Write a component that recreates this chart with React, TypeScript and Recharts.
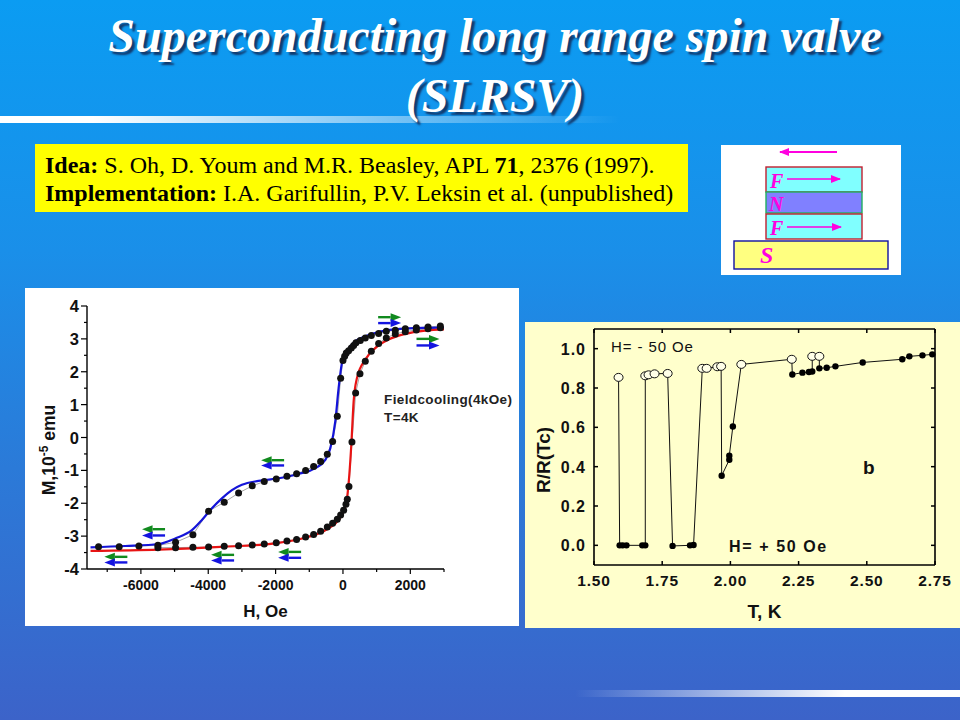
import React from "react";
import { ComposedChart, Line, Scatter, XAxis, YAxis } from "recharts";

// ---- left panel: magnetisation loop ----
const fieldTicks = [-7000, -6000, -5000, -4000, -3000, -2000, -1000, 0, 1000, 2000, 3000];
const fieldLabelled = [-6000, -4000, -2000, 0, 2000];
const momentTicks = [-4, -3.5, -3, -2.5, -2, -1.5, -1, -0.5, 0, 0.5, 1, 1.5, 2, 2.5, 3, 3.5, 4];

const upperPoints = [
  [-7257, -3.32], [-6644, -3.32], [-6059, -3.3], [-5495, -3.28], [-4970, -3.19], [-4455, -2.96], [-3990, -2.24],
  [-3525, -1.97], [-3099, -1.69], [-2693, -1.47], [-2337, -1.34], [-1980, -1.26], [-1663, -1.18], [-1376, -1.1],
  [-1109, -1.0], [-871, -0.88], [-663, -0.73], [-465, -0.51], [-307, -0.12], [-168, 0.65], [-69, 1.8], [0, 2.34],
  [50, 2.47], [99, 2.57], [168, 2.64], [248, 2.72], [317, 2.8], [386, 2.88], [515, 2.95], [663, 3.03], [842, 3.1],
  [1059, 3.16], [1287, 3.23], [1554, 3.26], [1851, 3.31], [2178, 3.34], [2525, 3.36], [2891, 3.39],
].map(([h, m]) => ({ h, m }));

const lowerPoints = [
  [-5495, -3.35], [-4970, -3.35], [-4455, -3.34], [-3990, -3.33], [-3525, -3.31], [-3099, -3.29], [-2693, -3.27],
  [-2337, -3.24], [-1980, -3.2], [-1663, -3.15], [-1376, -3.1], [-1109, -3.03], [-871, -2.95], [-663, -2.85],
  [-465, -2.72], [-307, -2.61], [-168, -2.49], [-69, -2.36], [20, -2.21], [89, -2.03], [129, -1.88], [178, -1.49],
  [267, -0.14], [376, 1.35], [505, 1.94], [663, 2.32], [842, 2.62], [1059, 2.86], [1287, 3.03], [1554, 3.15],
  [1851, 3.22], [2178, 3.27], [2525, 3.31], [2891, 3.34],
].map(([h, m]) => ({ h, m }));

const blueCurve = [
  [-7495, -3.34], [-6465, -3.3], [-5475, -3.24], [-4980, -3.07], [-4485, -2.82], [-4188, -2.51], [-3891, -2.15],
  [-3594, -1.85], [-3297, -1.6], [-3000, -1.44], [-2505, -1.32], [-1911, -1.24], [-1317, -1.11], [-822, -0.93],
  [-525, -0.68], [-376, -0.33], [-228, 0.49], [-129, 1.5], [-30, 2.27], [119, 2.62], [366, 2.93], [663, 3.08],
  [1059, 3.21], [1455, 3.28], [1950, 3.32], [3000, 3.34],
].map(([h, m]) => ({ h, m }));

const redCurve = [
  [-7495, -3.45], [-5475, -3.41], [-3495, -3.32], [-2010, -3.22], [-1020, -3.02], [-525, -2.82], [-30, -2.36],
  [119, -1.85], [188, -1.14], [248, -0.22], [317, 1.1], [416, 1.81], [663, 2.37], [960, 2.72], [1356, 2.98],
  [1851, 3.15], [2446, 3.25], [3000, 3.29],
].map(([h, m]) => ({ h, m }));

const arrowPoints = [
  { h: 1386, m: 3.66, dir: 1, color: "#118a1e" }, { h: 1386, m: 3.48, dir: 1, color: "#1414e0" },
  { h: 2525, m: 3.0, dir: 1, color: "#118a1e" }, { h: 2525, m: 2.8, dir: 1, color: "#1414e0" },
  { h: -2089, m: -0.69, dir: -1, color: "#118a1e" }, { h: -2089, m: -0.85, dir: -1, color: "#1414e0" },
  { h: -5624, m: -2.79, dir: -1, color: "#118a1e" }, { h: -5624, m: -2.98, dir: -1, color: "#1414e0" },
  { h: -6743, m: -3.63, dir: -1, color: "#118a1e" }, { h: -6743, m: -3.8, dir: -1, color: "#1414e0" },
  { h: -3574, m: -3.57, dir: -1, color: "#118a1e" }, { h: -3574, m: -3.74, dir: -1, color: "#1414e0" },
  { h: -1584, m: -3.48, dir: -1, color: "#118a1e" }, { h: -1584, m: -3.66, dir: -1, color: "#1414e0" },
];

// ---- right panel: resistance vs temperature ----
const tempTicks = [1.5, 1.75, 2.0, 2.25, 2.5, 2.75];
const ratioTicks = [0, 0.2, 0.4, 0.6, 0.8, 1.0];
const temps = [
  1.59, 1.594, 1.605, 1.619, 1.677, 1.688, 1.688, 1.7, 1.722, 1.77, 1.788, 1.852, 1.865, 1.897, 1.913, 1.952, 1.966,
  1.968, 1.996, 1.996, 2.009, 2.04, 2.225, 2.227, 2.264, 2.288, 2.3, 2.3, 2.326, 2.326, 2.353, 2.385, 2.485, 2.63,
  2.656, 2.704, 2.74,
];
const ratios = [
  0.854, 0, 0, 0, 0, 0, 0.862, 0.867, 0.872, 0.874, -0.003, 0, 0.002, 0.9, 0.9, 0.908, 0.91, 0.354, 0.435, 0.456,
  0.604, 0.92, 0.946, 0.869, 0.878, 0.881, 0.884, 0.961, 0.961, 0.9, 0.903, 0.91, 0.93, 0.946, 0.961, 0.966, 0.971,
];
const isOpen = [
  1, 0, 0, 0, 0, 0, 1, 1, 1, 1, 0, 0, 0, 1, 1, 1, 1, 0, 0, 0, 0, 1, 1, 0, 0, 0, 0, 1, 1, 0, 0, 0, 0, 0, 0, 0, 0,
];
const transition = temps.map((t, i) => ({ t, r: ratios[i], open: isOpen[i] === 1 }));

const SANS = "'Liberation Sans', Arial, sans-serif";
const SERIF = "'Liberation Serif', 'Times New Roman', serif";

const FieldTick = (p: any) => {
  const v = p.payload.value;
  const major = fieldLabelled.includes(v);
  return (
    <g>
      <line x1={p.x} x2={p.x} y1={p.y} y2={p.y + (major ? 5 : 3)} stroke="#000" strokeWidth={1.2} />
      {major && (
        <text x={p.x} y={p.y + 20.5} textAnchor="middle" fontFamily={SANS} fontWeight="bold" fontSize={14} fill="#111">
          {v}
        </text>
      )}
    </g>
  );
};

const MomentTick = (p: any) => {
  const v = p.payload.value;
  const major = Number.isInteger(v);
  return (
    <g>
      <line x1={p.x} x2={p.x - (major ? 6 : 3)} y1={p.y} y2={p.y} stroke="#000" strokeWidth={1.2} />
      {major && (
        <text x={p.x - 8} y={p.y + 6} textAnchor="end" fontFamily={SANS} fontWeight="bold" fontSize={16.5} fill="#111">
          {v}
        </text>
      )}
    </g>
  );
};

const ArrowShape = (p: any) => {
  const { cx, cy, payload } = p;
  const d = payload.dir;
  const tip = cx + d * 11.5;
  const neck = cx + d * 1;
  return (
    <g>
      <line x1={cx - d * 11.5} x2={neck} y1={cy} y2={cy} stroke={payload.color} strokeWidth={2.4} />
      <polygon points={`${tip},${cy} ${neck},${cy - 4} ${neck},${cy + 4}`} fill={payload.color} />
    </g>
  );
};

const TempTick = (p: any) => {
  const v = p.payload.value;
  return (
    <g>
      <line x1={p.x} x2={p.x} y1={p.y} y2={p.y - 4} stroke="#000" strokeWidth={1.5} />
      <text x={p.x} y={p.y + 21} textAnchor="middle" fontFamily={SANS} fontWeight="bold" fontSize={15.5} letterSpacing={0.8} fill="#111">
        {v.toFixed(2)}
      </text>
    </g>
  );
};
const TopTick = (p: any) => <line x1={p.x} x2={p.x} y1={p.y} y2={p.y + 4} stroke="#000" strokeWidth={1.5} />;
const RatioTick = (p: any) => {
  const v = p.payload.value;
  return (
    <g>
      <line x1={p.x} x2={p.x + 4} y1={p.y} y2={p.y} stroke="#000" strokeWidth={1.5} />
      <text x={p.x - 8} y={p.y + 6} textAnchor="end" fontFamily={SANS} fontWeight="bold" fontSize={16} letterSpacing={1} fill="#111">
        {v.toFixed(1)}
      </text>
    </g>
  );
};
const RightTick = (p: any) => <line x1={p.x} x2={p.x - 4} y1={p.y} y2={p.y} stroke="#000" strokeWidth={1.5} />;

const TransitionDot = (p: any) => {
  const { cx, cy, payload, index } = p;
  return payload.open ? (
    <ellipse key={index} cx={cx} cy={cy} rx={4.5} ry={4} fill="#ffffe8" stroke="#111" strokeWidth={1} />
  ) : (
    <circle key={index} cx={cx} cy={cy} r={3.2} fill="#000" />
  );
};

const abs = (left: number, top: number, extra: React.CSSProperties = {}): React.CSSProperties => ({
  position: "absolute",
  left,
  top,
  whiteSpace: "nowrap",
  ...extra,
});

const Stack = () => (
  <svg width={180} height={130} style={abs(721, 145, { background: "#fff" })}>
    <defs>
      <marker id="mh" markerUnits="userSpaceOnUse" markerWidth="10" markerHeight="8" refX="9" refY="4" orient="auto">
        <path d="M0,0 L10,4 L0,8 Z" fill="#ff00e0" />
      </marker>
    </defs>
    <line x1={116} y1={7} x2={59} y2={7} stroke="#ff00e0" strokeWidth={2} markerEnd="url(#mh)" />
    <rect x={45} y={22} width={96} height={25} fill="#80ffff" stroke="#c02030" strokeWidth={1.4} />
    <rect x={45} y={47} width={96} height={21} fill="#8080ff" stroke="#20b060" strokeWidth={1.4} />
    <rect x={45} y={69} width={96} height={25} fill="#80ffff" stroke="#c02030" strokeWidth={1.4} />
    <rect x={13} y={96} width={154} height={28} fill="#ffff80" stroke="#1010a0" strokeWidth={1.4} />
    <line x1={66} y1={34} x2={119} y2={34} stroke="#ff00e0" strokeWidth={1.4} markerEnd="url(#mh)" />
    <line x1={66} y1={82} x2={120} y2={82} stroke="#ff00e0" strokeWidth={1.4} markerEnd="url(#mh)" />
    {[["F", 49, 43, 20], ["N", 48, 66, 20], ["F", 49, 90, 20], ["S", 39, 118, 24]].map(([t, x, y, s], i) => (
      <text key={i} x={x} y={y} fontFamily={SERIF} fontStyle="italic" fontWeight="bold" fontSize={s} fill="#ff00e0">
        {t}
      </text>
    ))}
  </svg>
);

export default function App() {
  return (
    <div
      style={{
        position: "fixed",
        left: 0,
        top: 0,
        width: 960,
        height: 720,
        overflow: "hidden",
        background: "linear-gradient(180deg, #0b9cf2 0%, #1a8fe9 35%, #2b7ad8 65%, #3c63c9 100%)",
        fontFamily: SERIF,
      }}
    >
      <div
        style={{
          position: "absolute",
          left: 0,
          top: 116,
          width: 620,
          height: 7,
          background: "linear-gradient(90deg, #fff 0%, #fff 15%, rgba(255,255,255,0) 100%)",
        }}
      />
      <div
        style={{
          position: "absolute",
          left: 575,
          top: 690,
          width: 385,
          height: 7,
          background: "linear-gradient(90deg, rgba(255,255,255,0) 0%, #fff 70%, #fff 100%)",
        }}
      />
      <div
        style={{
          position: "absolute",
          left: 15,
          top: 6,
          width: 960,
          textAlign: "center",
          color: "#fff",
          fontStyle: "italic",
          fontWeight: "bold",
          fontSize: 48,
          lineHeight: "60px",
          textShadow: "3px 3px 2px #123a6e",
        }}
      >
        Superconducting long range spin valve
        <br />
        (SLRSV)
      </div>

      <div
        style={{
          position: "absolute",
          left: 35,
          top: 144,
          width: 653,
          height: 68,
          background: "#ffff00",
          color: "#000",
          fontSize: 24,
          lineHeight: "28px",
          paddingTop: 7,
          paddingLeft: 10,
          boxSizing: "border-box",
          whiteSpace: "nowrap",
        }}
      >
        <b>Idea:</b> S. Oh, D. Youm and M.R. Beasley, APL <b>71</b>, 2376 (1997).
        <br />
        <b>Implementation:</b> I.A. Garifullin, P.V. Leksin et al. (unpublished)
      </div>

      <Stack />

      <div style={abs(25, 288, { width: 494, height: 338, background: "#fff" })}>
        <ComposedChart width={494} height={338} margin={{ top: 18, left: 61, right: 75, bottom: 56 }}>
          <XAxis
            type="number"
            dataKey="h"
            domain={[-7600, 3000]}
            ticks={fieldTicks}
            interval={0}
            height={1}
            tickSize={0}
            tickMargin={0}
            tick={FieldTick}
            axisLine={{ stroke: "#000", strokeWidth: 1.4 }}
            allowDataOverflow
            label={{ value: "H, Oe", position: "bottom", offset: 35, fontFamily: SANS, fontWeight: "bold", fontSize: 17, fill: "#111" }}
          />
          <YAxis
            type="number"
            dataKey="m"
            domain={[-4, 4]}
            ticks={momentTicks}
            interval={0}
            width={1}
            tickSize={0}
            tickMargin={0}
            tick={MomentTick}
            axisLine={{ stroke: "#000", strokeWidth: 1.4 }}
            allowDataOverflow
            label={{
              content: () => (
                <text
                  transform="rotate(-90 30 162)"
                  x={30}
                  y={162}
                  textAnchor="middle"
                  fontFamily={SANS}
                  fontWeight="bold"
                  fontSize={17.5}
                  fill="#111"
                >
                  M,10
                  <tspan dy={-7} fontSize={12}>-5</tspan>
                  <tspan dy={7}> emu</tspan>
                </text>
              ),
            }}
          />
          <Line data={upperPoints} dataKey="m" stroke="#666" strokeWidth={0.6} dot={{ r: 3.5, fill: "#111", stroke: "#111", strokeWidth: 0 }} isAnimationActive={false} />
          <Line data={lowerPoints} dataKey="m" stroke="#666" strokeWidth={0.6} dot={{ r: 3.5, fill: "#111", stroke: "#111", strokeWidth: 0 }} isAnimationActive={false} />
          <Line data={blueCurve} dataKey="m" type="monotone" stroke="#1414d8" strokeWidth={2.2} dot={false} isAnimationActive={false} />
          <Line data={redCurve} dataKey="m" type="monotone" stroke="#e81414" strokeWidth={2.2} dot={false} isAnimationActive={false} />
          <Scatter data={arrowPoints} dataKey="m" shape={ArrowShape} isAnimationActive={false} />
        </ComposedChart>
        <div style={abs(359, 103, { fontFamily: SANS, fontWeight: "bold", fontSize: 13.5, letterSpacing: 0.38, lineHeight: "18px", color: "#222" })}>
          Fieldcooling(4kOe)
          <br />
          T=4K
        </div>
      </div>

      <div style={abs(525, 322, { width: 435, height: 306, background: "#ffffcc" })}>
        <ComposedChart width={435} height={306} data={transition} margin={{ top: 6, left: 68, right: 24, bottom: 62 }}>
          <XAxis
            type="number"
            dataKey="t"
            domain={[1.5, 2.75]}
            ticks={tempTicks}
            interval={0}
            height={1}
            tickSize={0}
            tickMargin={0}
            tick={TempTick}
            axisLine={{ stroke: "#000", strokeWidth: 1.6 }}
            label={{ value: "T, K", position: "bottom", offset: 39, fontFamily: SANS, fontWeight: "bold", fontSize: 19, fill: "#111" }}
          />
          <XAxis
            xAxisId="top"
            orientation="top"
            type="number"
            dataKey="t"
            domain={[1.5, 2.75]}
            ticks={tempTicks}
            interval={0}
            height={1}
            tickSize={0}
            tickMargin={0}
            tick={TopTick}
            axisLine={{ stroke: "#000", strokeWidth: 1.6 }}
          />
          <YAxis
            type="number"
            dataKey="r"
            domain={[-0.1, 1.1]}
            ticks={ratioTicks}
            interval={0}
            width={1}
            tickSize={0}
            tickMargin={0}
            tick={RatioTick}
            axisLine={{ stroke: "#000", strokeWidth: 1.6 }}
            label={{
              content: () => (
                <text transform="rotate(-90 25 138)" x={25} y={138} textAnchor="middle" fontFamily={SANS} fontWeight="bold" fontSize={19} fill="#111">
                  R/R(Tc)
                </text>
              ),
            }}
          />
          <YAxis
            yAxisId="right"
            orientation="right"
            type="number"
            dataKey="r"
            domain={[-0.1, 1.1]}
            ticks={ratioTicks}
            interval={0}
            width={1}
            tickSize={0}
            tickMargin={0}
            tick={RightTick}
            axisLine={{ stroke: "#000", strokeWidth: 1.6 }}
          />
          <Line dataKey="r" stroke="#111" strokeWidth={1} dot={TransitionDot} isAnimationActive={false} />
        </ComposedChart>
        <div style={abs(86, 16, { fontFamily: SANS, fontSize: 15, letterSpacing: 0.9, color: "#111" })}>H= - 50 Oe</div>
        <div style={abs(204, 216, { fontFamily: SANS, fontWeight: "bold", fontSize: 16, letterSpacing: 1.6, color: "#111" })}>H= + 50 Oe</div>
        <div style={abs(338, 135, { fontFamily: SANS, fontWeight: "bold", fontSize: 19, color: "#111" })}>b</div>
      </div>
    </div>
  );
}
